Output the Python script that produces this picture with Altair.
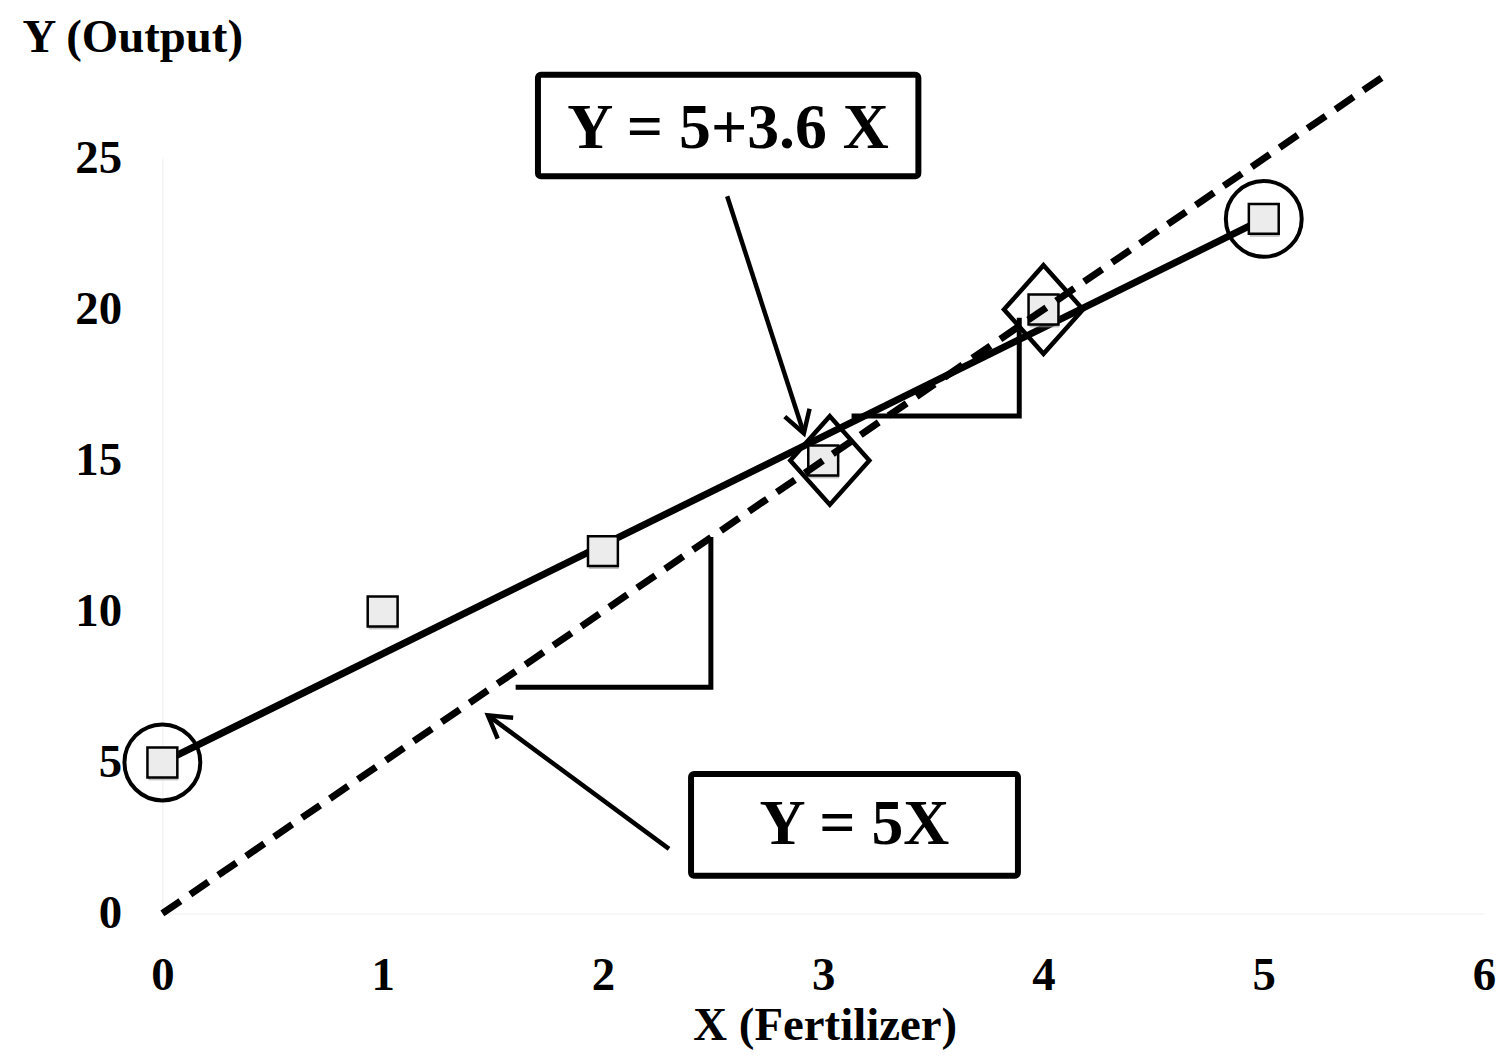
import math
import altair as alt
import pandas as pd

# ---- data ----
obs_x = [0, 1, 2, 3, 4, 5]
obs_y = [5, 10, 12, 15, 20, 23]

fit_x = [0, 5]          # Y = 5 + 3.6 X
fit_y = [5, 23]
ref_x = [0, 5.55]       # Y = 5X
ref_y = [0, 27.75]

tri1_x = [1.615, 2.49, 2.49]
tri1_y = [7.49, 7.49, 12.38]
tri2_x = [3.14, 3.89, 3.89]
tri2_y = [16.47, 16.47, 19.64]

circle_x = [0, 5]
circle_y = [5, 23]
diamond_x = [3.03, 4]
diamond_y = [15, 20]

box_labels = ["Y = 5+3.6 X", "Y = 5X"]
box_x1 = [1.705, 2.40]
box_x2 = [3.432, 3.884]
box_y1 = [24.41, 1.25]
box_y2 = [27.77, 4.62]
box_tx = [2.568, 3.142]
box_ty = [25.96, 2.93]

arrow_x1 = [2.564, 2.30]
arrow_y1 = [23.75, 2.14]
arrow_x2 = [2.912, 1.478]
arrow_y2 = [15.90, 6.56]

x_ticks = [0, 1, 2, 3, 4, 5, 6]
y_ticks = [0, 5, 10, 15, 20, 25]

W, H = 1327, 758
XD, YD = [0, 6], [0, 25]
FONT = "Liberation Serif"

xs = alt.Scale(domain=XD, nice=False, zero=False)
ys = alt.Scale(domain=YD, nice=False, zero=False)

x_axis = alt.Axis(values=x_ticks, title="X (Fertilizer)", grid=False, ticks=False, tickSize=0,
                  labelFont=FONT, labelFontSize=47, labelFontWeight="bold", labelPadding=39,
                  labelFlush=False, labelOverlap=False,
                  labelColor="black", domainColor="#eeeeee", domainWidth=1,
                  titleFont=FONT, titleFontSize=47, titleFontWeight="bold", titleColor="black",
                  titleX=665, titleY=113, titleAnchor="start", titleAlign="center", titleBaseline="middle")
y_axis = alt.Axis(values=y_ticks, title="Y (Output)", grid=False, ticks=False, tickSize=0,
                  labelFont=FONT, labelFontSize=47, labelFontWeight="bold", labelPadding=41,
                  labelFlush=False, labelOverlap=False,
                  labelColor="black", domainColor="#eeeeee", domainWidth=1,
                  titleFont=FONT, titleFontSize=47, titleFontWeight="bold", titleColor="black",
                  titleAngle=0, titleX=-141, titleY=-121, titleAlign="left", titleBaseline="middle")


def X(f="x"):
    return alt.X(f"{f}:Q", scale=xs, axis=x_axis, title="X (Fertilizer)")


def Y(f="y"):
    return alt.Y(f"{f}:Q", scale=ys, axis=y_axis, title="Y (Output)")


obs = pd.DataFrame({"x": obs_x, "y": obs_y})
fit = pd.DataFrame({"x": fit_x, "y": fit_y, "i": [0, 1]})
ref = pd.DataFrame({"x": ref_x, "y": ref_y, "i": [0, 1]})
tri = pd.DataFrame({
    "x": tri1_x + tri2_x, "y": tri1_y + tri2_y,
    "g": ["a"] * 3 + ["b"] * 3, "i": [0, 1, 2, 0, 1, 2]})
circ = pd.DataFrame({"x": circle_x, "y": circle_y})
diam = pd.DataFrame({"x": diamond_x, "y": diamond_y})
boxes = pd.DataFrame({"label": box_labels, "x": box_x1, "x2": box_x2, "y": box_y1, "y2": box_y2,
                      "tx": box_tx, "ty": box_ty})

pxx = W / (XD[1] - XD[0])
pxy = H / (YD[1] - YD[0])
ang = []
for a, b, c, d in zip(arrow_x1, arrow_y1, arrow_x2, arrow_y2):
    dx = (c - a) * pxx
    dy = -(d - b) * pxy
    ang.append(math.degrees(math.atan2(dx, -dy)) % 360)
arrows = pd.DataFrame({"x": arrow_x1, "y": arrow_y1, "x2": arrow_x2, "y2": arrow_y2, "ang": ang})

solid = alt.Chart(fit).mark_line(color="black", strokeWidth=7, strokeCap="butt").encode(
    x=X(), y=Y(), order="i:Q")
dashed = alt.Chart(ref).mark_line(color="black", strokeWidth=7, strokeDash=[22, 12],
                                   strokeCap="butt").encode(x=X(), y=Y(), order="i:Q")
tris = alt.Chart(tri).mark_line(color="black", strokeWidth=5, strokeJoin="miter",
                                strokeCap="square").encode(
    x=X(), y=Y(), detail="g:N", order="i:Q")
circles = alt.Chart(circ).mark_point(shape="circle", size=5800, filled=False, color="black",
                                     strokeWidth=4, opacity=1).encode(x=X(), y=Y())
diamonds = alt.Chart(diam).mark_point(shape="M 0 -1.12 L 1 0 L 0 1.12 L -1 0 Z", size=6300,
                                      filled=False, color="black", strokeWidth=4.5,
                                      opacity=1).encode(x=X(), y=Y())
shadow = alt.Chart(obs).mark_square(size=900, color="#9a9a9a", opacity=0.6, xOffset=1,
                                    yOffset=3).encode(x=X(), y=Y())
squares = alt.Chart(obs).mark_square(size=900, fill="#ececec", stroke="black", strokeWidth=2.5,
                                     opacity=1, fillOpacity=1).encode(x=X(), y=Y())
arrow_lines = alt.Chart(arrows).mark_rule(color="black", strokeWidth=4.5).encode(
    x=X(), y=Y(), x2="x2:Q", y2="y2:Q")
heads = alt.Chart(arrows).mark_point(shape="M -0.6 1 L 0 0 L 0.6 1", size=1900, filled=False,
                                     color="black", strokeWidth=4.5, opacity=1,
                                     strokeJoin="miter").encode(
    x=X("x2"), y=Y("y2"), angle=alt.Angle("ang:Q", scale=None))
rects = alt.Chart(boxes).mark_rect(fill="white", stroke="black", strokeWidth=6,
                                   cornerRadius=3).encode(x=X(), y=Y(), x2="x2:Q", y2="y2:Q")
texts = alt.Chart(boxes).mark_text(font=FONT, fontSize=64, fontWeight="bold", color="black",
                                   align="center", baseline="middle").encode(
    x=X("tx"), y=Y("ty"), text="label:N")

chart = alt.layer(
    solid, tris, circles, diamonds, shadow, squares, dashed,
    arrow_lines, heads, rects, texts
).properties(
    width=W, height=H,
    autosize=alt.AutoSizeParams(type="none"),
    padding={"left": 155, "top": 149, "right": 13, "bottom": 138},
    background="white",
).configure_view(stroke=None, clip=False)

chart.save("out.html", embed_options={"renderer": "svg", "actions": False})
